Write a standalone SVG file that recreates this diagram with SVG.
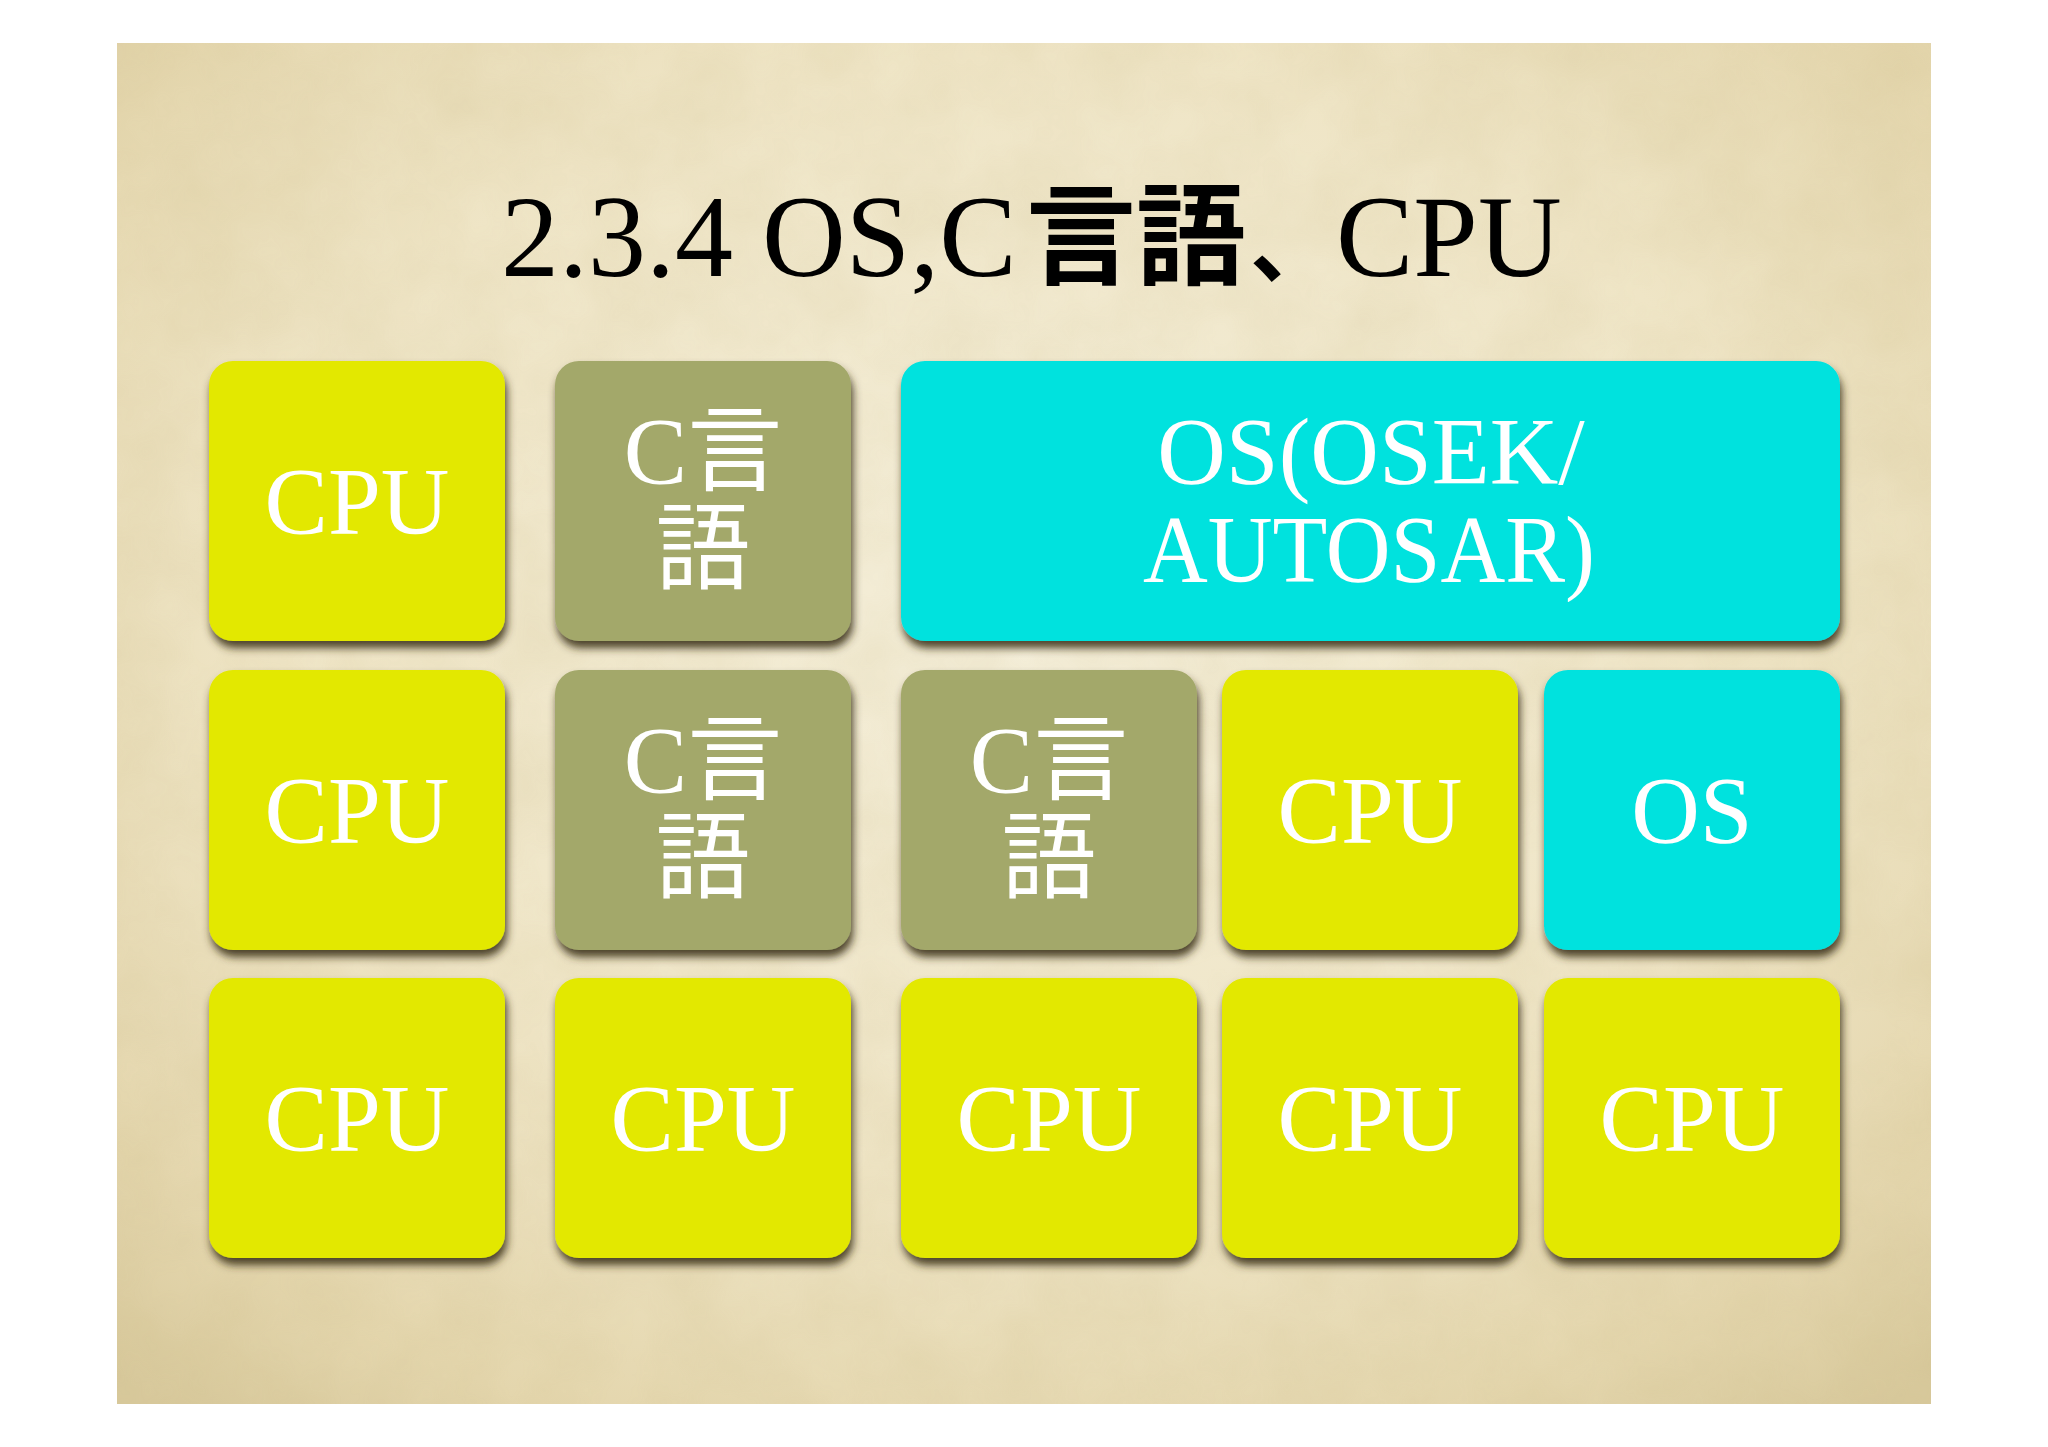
<svg xmlns="http://www.w3.org/2000/svg" width="2048" height="1447" viewBox="0 0 2048 1447">
  <defs>
    <radialGradient id="paper" cx="0.5" cy="0.42" r="0.75">
      <stop offset="0" stop-color="#f4eed9"/>
      <stop offset="0.55" stop-color="#efe5c6"/>
      <stop offset="0.85" stop-color="#e4d6ad"/>
      <stop offset="1" stop-color="#d8c99c"/>
    </radialGradient>
    <filter id="grain" x="0" y="0" width="1" height="1">
      <feTurbulence type="fractalNoise" baseFrequency="0.012" numOctaves="4" seed="7" result="n"/>
      <feColorMatrix in="n" type="matrix" values="0 0 0 0 0.55  0 0 0 0 0.45  0 0 0 0 0.2  0 0 0 0.35 -0.08"/>
    </filter>
    <filter id="shadow" x="-10%" y="-10%" width="120%" height="130%">
      <feDropShadow dx="2" dy="7" stdDeviation="4.5" flood-color="#3a3216" flood-opacity="0.9"/>
    </filter>
    <style>
      .box { filter: url(#shadow); }
      .cpu { fill: #e3e802; }
      .lang { fill: #a3a86a; }
      .os { fill: #00e2de; }
      .lbl { fill: #ffffff; font-family: "Liberation Serif", "Noto Sans CJK JP", serif; font-size: 95px; text-anchor: middle; }
      .title { fill: #000000; font-family: "Liberation Serif", "Noto Sans CJK JP", serif; font-size: 116px; }
      .kanji { font-family: "Noto Sans CJK JP", sans-serif; font-weight: bold; font-size: 110px; }
      .comma { font-family: "Noto Sans CJK JP", sans-serif; font-weight: bold; font-size: 85px; }
    </style>
  </defs>

  <rect x="0" y="0" width="2048" height="1447" fill="#ffffff"/>
  <g id="background">
    <rect x="117" y="43" width="1814" height="1361" fill="url(#paper)"/>
    <rect x="117" y="43" width="1814" height="1361" filter="url(#grain)" opacity="0.6"/>
  </g>

  <g id="title">
    <text class="title" y="276"><tspan x="501">2.3.4 OS,C</tspan><tspan class="kanji" x="1026">言語</tspan><tspan class="comma" x="1250">、</tspan><tspan x="1336">CPU</tspan></text>
  </g>

  <g id="connectors"/>

  <!-- Row 1 -->
  <g id="r1-cpu">
    <rect class="box cpu" x="209" y="361" width="296" height="280" rx="24"/>
    <text class="lbl" x="357" y="534">CPU</text>
  </g>
  <g id="r1-c">
    <rect class="box lang" x="555" y="361" width="296" height="280" rx="24"/>
    <text class="lbl" x="703" y="484">C言</text>
    <text class="lbl" x="703" y="582">語</text>
  </g>
  <g id="r1-os">
    <rect class="box os" x="901" y="361" width="939" height="280" rx="24"/>
    <text class="lbl" x="1371" y="484">OS(OSEK/</text>
    <text class="lbl" x="1369" y="582" textLength="452" lengthAdjust="spacingAndGlyphs">AUTOSAR)</text>
  </g>

  <!-- Row 2 -->
  <g id="r2-cpu">
    <rect class="box cpu" x="209" y="670" width="296" height="280" rx="24"/>
    <text class="lbl" x="357" y="843">CPU</text>
  </g>
  <g id="r2-c1">
    <rect class="box lang" x="555" y="670" width="296" height="280" rx="24"/>
    <text class="lbl" x="703" y="793">C言</text>
    <text class="lbl" x="703" y="891">語</text>
  </g>
  <g id="r2-c2">
    <rect class="box lang" x="901" y="670" width="296" height="280" rx="24"/>
    <text class="lbl" x="1049" y="793">C言</text>
    <text class="lbl" x="1049" y="891">語</text>
  </g>
  <g id="r2-cpu2">
    <rect class="box cpu" x="1222" y="670" width="296" height="280" rx="24"/>
    <text class="lbl" x="1370" y="843">CPU</text>
  </g>
  <g id="r2-os">
    <rect class="box os" x="1544" y="670" width="296" height="280" rx="24"/>
    <text class="lbl" x="1692" y="843">OS</text>
  </g>

  <!-- Row 3 -->
  <g id="r3-cpu1">
    <rect class="box cpu" x="209" y="978" width="296" height="280" rx="24"/>
    <text class="lbl" x="357" y="1151">CPU</text>
  </g>
  <g id="r3-cpu2">
    <rect class="box cpu" x="555" y="978" width="296" height="280" rx="24"/>
    <text class="lbl" x="703" y="1151">CPU</text>
  </g>
  <g id="r3-cpu3">
    <rect class="box cpu" x="901" y="978" width="296" height="280" rx="24"/>
    <text class="lbl" x="1049" y="1151">CPU</text>
  </g>
  <g id="r3-cpu4">
    <rect class="box cpu" x="1222" y="978" width="296" height="280" rx="24"/>
    <text class="lbl" x="1370" y="1151">CPU</text>
  </g>
  <g id="r3-cpu5">
    <rect class="box cpu" x="1544" y="978" width="296" height="280" rx="24"/>
    <text class="lbl" x="1692" y="1151">CPU</text>
  </g>
</svg>
